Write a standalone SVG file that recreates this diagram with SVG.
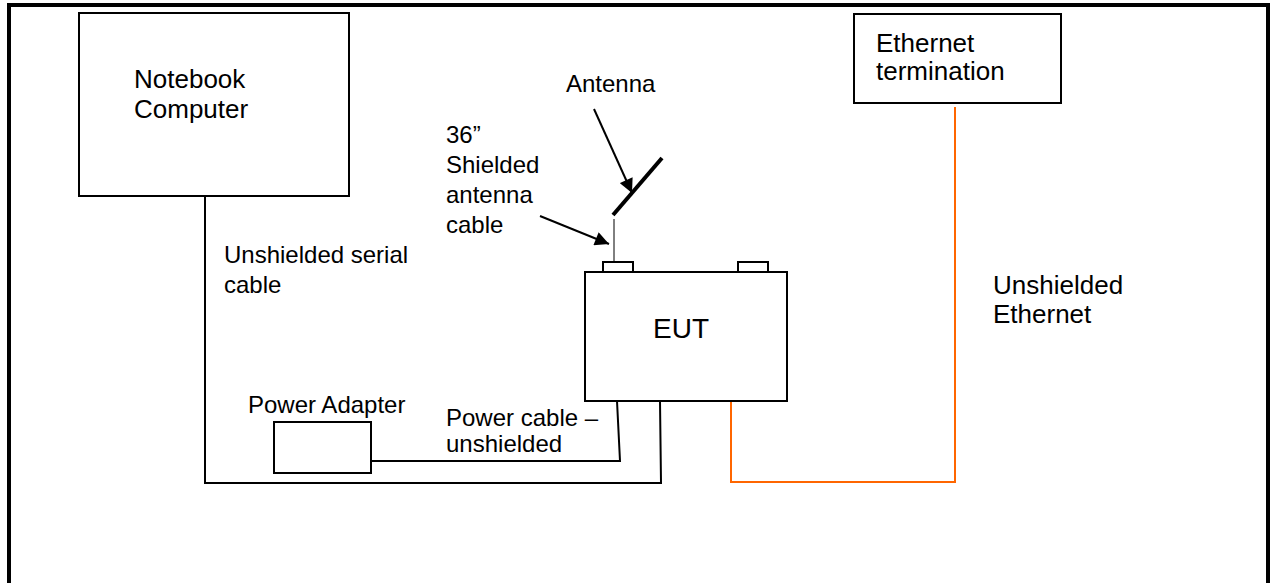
<svg xmlns="http://www.w3.org/2000/svg" width="1272" height="583" viewBox="0 0 1272 583">
<style>
  text { font-family: "Liberation Sans", Arial, sans-serif; fill: #000; }
  .box { fill: #fff; stroke: #000; stroke-width: 2; }
  .wire { fill: none; stroke: #000; stroke-width: 2; }
  .eth { fill: none; stroke: #FF6600; stroke-width: 2; }
  .lbl { font-size: 24px; }
  .big { font-size: 26px; }
</style>
<defs>
  <marker id="arrL" viewBox="0 0 10 10" refX="10" refY="5" markerWidth="7.5" markerHeight="7" orient="auto" markerUnits="strokeWidth">
    <path d="M0,0 L10,5 L0,10 z" fill="#000"/>
  </marker>
</defs>
<rect x="0" y="0" width="1272" height="583" fill="#fff"/>
<path d="M9,583 V5 H1268 V583" fill="none" stroke="#000" stroke-width="4"/>

<g id="connectors">
  <path class="wire" d="M205,196 V483 H661 L660,401"/>
  <path class="wire" d="M371,461 H620 L617,401"/>
  <path class="eth" d="M731,401 V482 H955 V107"/>
  <line x1="614" y1="219" x2="614" y2="262" stroke="#000" stroke-width="1"/>
  <line x1="594" y1="109" x2="632" y2="193" stroke="#000" stroke-width="2" marker-end="url(#arrL)"/>
  <line x1="540" y1="216" x2="609" y2="244" stroke="#000" stroke-width="2" marker-end="url(#arrL)"/>
</g>

<g id="notebook">
  <rect class="box" x="79" y="13" width="270" height="183"/>
  <text class="big" x="134" y="88">Notebook</text>
  <text class="big" x="134" y="118">Computer</text>
</g>

<g id="ethernet-termination">
  <rect class="box" x="854" y="14" width="207" height="89"/>
  <text class="big" x="876" y="52">Ethernet</text>
  <text class="big" x="876" y="80">termination</text>
</g>

<g id="eut">
  <rect class="box" x="585" y="272" width="202" height="129"/>
  <rect class="box" x="603" y="262" width="30" height="10"/>
  <rect class="box" x="738" y="262" width="30" height="10"/>
  <text x="653" y="338" font-size="28">EUT</text>
</g>

<g id="antenna">
  <line x1="613" y1="215" x2="662" y2="158" stroke="#000" stroke-width="4"/>
  <text class="lbl" x="566" y="92">Antenna</text>
</g>

<g id="power-adapter">
  <rect class="box" x="274" y="422" width="97" height="51"/>
  <text class="lbl" x="248" y="413">Power Adapter</text>
</g>

<g id="labels">
  <text class="lbl" x="446" y="143">36”</text>
  <text class="lbl" x="446" y="173">Shielded</text>
  <text class="lbl" x="446" y="203">antenna</text>
  <text class="lbl" x="446" y="233">cable</text>
  <text class="lbl" x="224" y="263">Unshielded serial</text>
  <text class="lbl" x="224" y="293">cable</text>
  <text class="lbl" x="446" y="426">Power cable –</text>
  <text class="lbl" x="446" y="452">unshielded</text>
  <text class="big" x="993" y="294">Unshielded</text>
  <text class="big" x="993" y="323">Ethernet</text>
</g>
</svg>
